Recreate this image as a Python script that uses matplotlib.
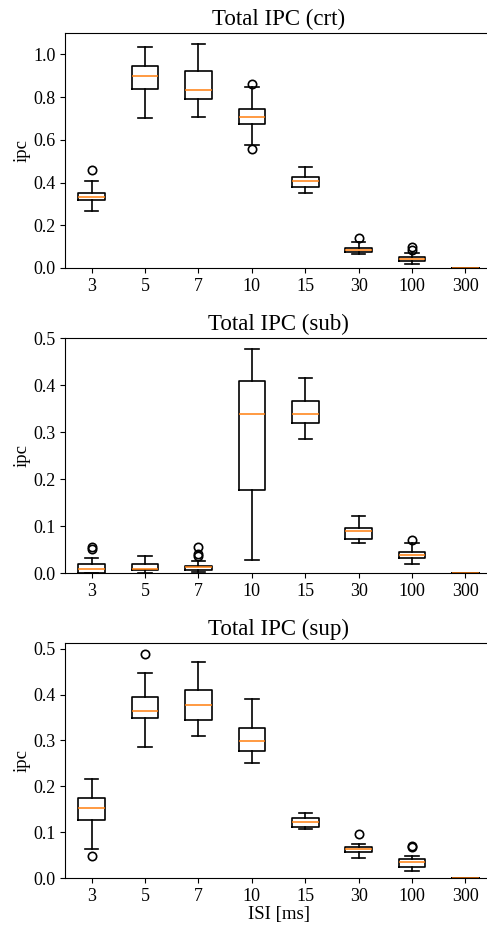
import numpy as np
import matplotlib
matplotlib.use("Agg")
import matplotlib.pyplot as plt

plt.rcParams['font.family'] = ['Liberation Serif', 'DejaVu Serif']

isi_labels = ['3', '5', '7', '10', '15', '30', '100', '300']

# crt
crt_whislo = [0.266, 0.701, 0.709, 0.577, 0.352, 0.066, 0.019, 0.0]
crt_q1 = [0.316, 0.840, 0.790, 0.676, 0.380, 0.075, 0.031, 0.0]
crt_med = [0.332, 0.897, 0.833, 0.709, 0.407, 0.086, 0.042, 0.0]
crt_q3 = [0.352, 0.945, 0.922, 0.746, 0.426, 0.095, 0.053, 0.0]
crt_whishi = [0.405, 1.036, 1.048, 0.848, 0.471, 0.122, 0.070, 0.0]
crt_fliers = [[0.459], [], [], [0.861, 0.557], [], [0.139], [0.097, 0.086], []]

# sub
sub_whislo = [0.0, 0.0, 0.0014, 0.0285, 0.285, 0.063, 0.019, 0.0]
sub_q1 = [0.0, 0.007, 0.007, 0.176, 0.319, 0.073, 0.032, 0.0]
sub_med = [0.0085, 0.0085, 0.012, 0.339, 0.339, 0.090, 0.038, 0.0]
sub_q3 = [0.0185, 0.019, 0.0156, 0.410, 0.367, 0.095, 0.045, 0.0]
sub_whishi = [0.032, 0.0356, 0.026, 0.477, 0.415, 0.121, 0.064, 0.0]
sub_fliers = [[0.0548, 0.051], [], [0.055, 0.041, 0.037], [], [], [], [0.071], []]

# sup
sup_whislo = [0.063, 0.286, 0.309, 0.250, 0.106, 0.044, 0.0146, 0.0]
sup_q1 = [0.127, 0.349, 0.345, 0.276, 0.112, 0.057, 0.025, 0.0]
sup_med = [0.153, 0.364, 0.378, 0.299, 0.122, 0.064, 0.035, 0.0]
sup_q3 = [0.175, 0.394, 0.411, 0.328, 0.130, 0.068, 0.0415, 0.0]
sup_whishi = [0.215, 0.448, 0.471, 0.391, 0.141, 0.074, 0.049, 0.0]
sup_fliers = [[0.049], [0.488], [], [], [], [0.095], [0.0706, 0.068], []]


def make_stats(whislo, q1, med, q3, whishi, fliers):
    stats = []
    for i in range(len(med)):
        stats.append(dict(whislo=whislo[i], q1=q1[i], med=med[i], q3=q3[i],
                          whishi=whishi[i], fliers=np.array(fliers[i])))
    return stats


panels = [
    ('Total IPC (crt)', make_stats(crt_whislo, crt_q1, crt_med, crt_q3, crt_whishi, crt_fliers)),
    ('Total IPC (sub)', make_stats(sub_whislo, sub_q1, sub_med, sub_q3, sub_whishi, sub_fliers)),
    ('Total IPC (sup)', make_stats(sup_whislo, sup_q1, sup_med, sup_q3, sup_whishi, sup_fliers)),
]

fig = plt.figure(figsize=(4.87, 9.26), dpi=100)
bottoms = [0.7106, 0.3812, 0.0518]

lw = 1.2
for (title, stats), b in zip(panels, bottoms):
    ax = fig.add_axes([0.1335, b, 0.877, 0.2538])
    ax.bxp(stats, showfliers=True,
           boxprops=dict(linewidth=lw), whiskerprops=dict(linewidth=lw),
           capprops=dict(linewidth=lw), medianprops=dict(linewidth=1.1),
           flierprops=dict(markeredgewidth=1.2))
    ax.set_xticks(range(1, len(isi_labels) + 1))
    ax.set_xticklabels(isi_labels)
    ax.set_ylim(bottom=0)
    ax.set_title(title, fontsize=16.5)
    ax.set_ylabel('ipc', fontsize=13.5, labelpad=2)
    ax.tick_params(labelsize=13)

ax.set_xlabel('ISI [ms]', fontsize=13.5, labelpad=1)

fig.savefig('out.png', dpi=100)
